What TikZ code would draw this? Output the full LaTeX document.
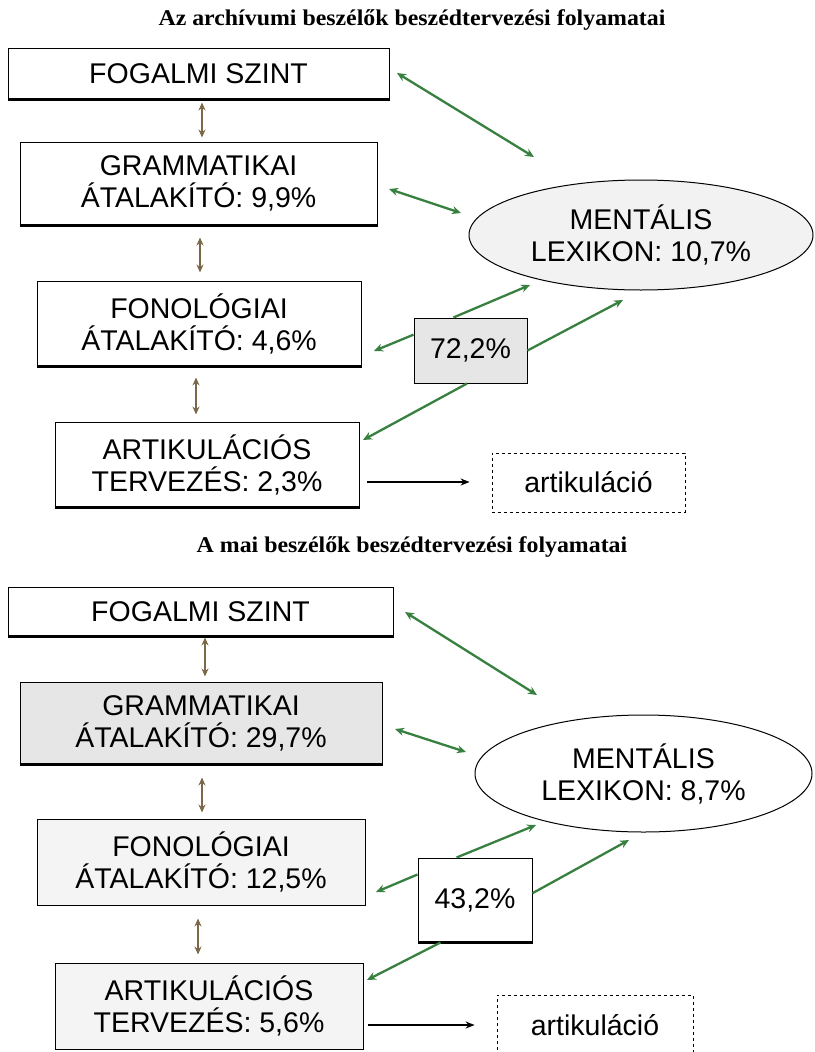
\documentclass[tikz,border=0pt]{standalone}
\usepackage{fontspec}
\setmainfont{Liberation Sans}
\newfontfamily\ttlfont[FakeStretch=1.06]{Liberation Serif}
\usetikzlibrary{arrows.meta,shapes.geometric,calc}
\definecolor{grn}{RGB}{56,128,64}
\definecolor{brn}{RGB}{122,104,72}
\definecolor{lgA}{RGB}{230,230,230}
\definecolor{lgB}{RGB}{242,242,242}
\definecolor{lgC}{RGB}{244,244,244}
\newcommand\bxf{\fontsize{28.5}{32}\selectfont}
\newcommand\ttf{\ttlfont\bfseries\fontsize{22.5}{26}\selectfont}
\tikzset{
  box/.style={draw=black, line width=1pt, inner sep=0pt, align=center, font=\bxf},
  outbox/.style={box, dashed, line width=0.8pt},
  lex/.style={ellipse, draw=black, line width=1pt, inner sep=0pt, align=center, font=\bxf},
  ttl/.style={anchor=base, font=\ttf},
  garrow/.style={draw=grn, line width=2.3pt, -{Stealth[length=9pt,width=8pt]}},
  gdarrow/.style={draw=grn, line width=2.3pt, {Stealth[length=9pt,width=8pt]}-{Stealth[length=9pt,width=8pt]}},
  barrow/.style={draw=brn, line width=2pt, {Stealth[length=8pt,width=7pt]}-{Stealth[length=8pt,width=7pt]}},
  karrow/.style={draw=black, line width=1.5pt, -{Stealth[length=9pt,width=7pt]}},
  thickb/.style={line width=2.4pt}
}
\begin{document}
\begin{tikzpicture}[x=1pt,y=-1pt]
\useasboundingbox (0,0) rectangle (814,1052);
% ---------------- top diagram ----------------
\node[ttl] (t1) at (412,25) {Az archívumi beszélők beszédtervezési folyamatai};
\node[box, minimum width=381, minimum height=51] (fog1) at (198.5,73.5) {FOGALMI SZINT};
\node[box, minimum width=357, minimum height=83] (gram1) at (198.5,183.5) {GRAMMATIKAI\\ÁTALAKÍTÓ: 9,9\%};
\node[box, minimum width=324, minimum height=85] (fono1) at (199,323.5) {FONOLÓGIAI\\ÁTALAKÍTÓ: 4,6\%};
\node[box, minimum width=304, minimum height=85] (art1) at (207,464.5) {ARTIKULÁCIÓS\\TERVEZÉS: 2,3\%};
\node[outbox, minimum width=193, minimum height=59] (out1) at (588.5,482.5) {artikuláció};
\node[box, fill=lgA, minimum width=113, minimum height=65] (pct1) at (470.5,350.5) {72,2\%};
\node[lex, fill=lgB, minimum width=344, minimum height=110] (lex1) at (641,235) {MENTÁLIS\\LEXIKON: 10,7\%};
\draw[thickb] (fog1.south west) -- (fog1.south east);
\draw[thickb] (gram1.south west) -- (gram1.south east);
\draw[thickb] (fono1.south west) -- (fono1.south east);
\draw[thickb] (art1.south west) -- (art1.south east);
\draw[line width=1.8pt] (pct1.south west) -- (pct1.south east);
% brown vertical arrows
\draw[barrow, shorten <=3pt, shorten >=4pt] ([xshift=3.5pt]fog1.south) -- ([xshift=3.5pt]fog1.south |- gram1.north);
\draw[barrow, shorten <=12pt, shorten >=8pt] ([xshift=1.5pt]gram1.south) -- ([xshift=1.5pt]gram1.south |- fono1.north);
\draw[barrow, shorten <=11pt, shorten >=7pt] ([xshift=-3pt]fono1.south) -- ([xshift=-3pt]fono1.south |- art1.north);
% green arrows
\coordinate (a1) at (397,73);
\coordinate (b1) at (534,157);
\draw[gdarrow] (a1) -- (b1);
\coordinate (a2) at (389,189);
\coordinate (b2) at (461,213);
\draw[gdarrow] (a2) -- (b2);
\coordinate (c1) at (530,285);
\coordinate (c2) at (374,351);
\coordinate (c3) at (623,300);
\coordinate (c4) at (363,440);
\draw[garrow] ($(pct1.north west)!0.35!(pct1.north east)$) -- (c1);
\draw[garrow] ($(pct1.north west)!0.26!(pct1.south west)$) -- (c2);
\draw[garrow] (pct1.east) -- (c3);
\draw[garrow] ($(pct1.south west)!0.47!(pct1.south east)$) -- (c4);
% black arrow
\coordinate (k1) at ([yshift=-17.5pt]art1.east);
\draw[karrow, shorten <=7pt, shorten >=22pt] (k1) -- (k1 -| out1.west);
% ---------------- bottom diagram ----------------
\node[ttl] (t2) at (412,552) {A mai beszélők beszédtervezési folyamatai};
\node[box, minimum width=385, minimum height=49] (fog2) at (200.5,611.5) {FOGALMI SZINT};
\node[box, fill=lgA, minimum width=362, minimum height=82] (gram2) at (201,723) {GRAMMATIKAI\\ÁTALAKÍTÓ: 29,7\%};
\node[box, fill=lgC, minimum width=328, minimum height=86] (fono2) at (201,862) {FONOLÓGIAI\\ÁTALAKÍTÓ: 12,5\%};
\node[box, fill=lgC, minimum width=308, minimum height=86] (art2) at (209,1006) {ARTIKULÁCIÓS\\TERVEZÉS: 5,6\%};
\node[outbox, minimum width=196, minimum height=60] (out2) at (595,1025) {artikuláció};
\node[box, fill=white, minimum width=114, minimum height=84] (pct2) at (475,900) {43,2\%};
\node[lex, fill=white, minimum width=337, minimum height=117] (lex2) at (643.5,773.5) {MENTÁLIS\\LEXIKON: 8,7\%};
\draw[thickb] (fog2.south west) -- (fog2.south east);
\draw[thickb] (gram2.south west) -- (gram2.south east);
\draw[line width=3.5pt] (pct2.south west) -- (pct2.south east);
% brown vertical arrows
\draw[barrow, shorten <=1pt, shorten >=5pt] ([xshift=4.5pt]fog2.south) -- ([xshift=4.5pt]fog2.south |- gram2.north);
\draw[barrow, shorten <=13pt, shorten >=6pt] ([xshift=1pt]gram2.south) -- ([xshift=1pt]gram2.south |- fono2.north);
\draw[barrow, shorten <=13pt, shorten >=8pt] ([xshift=-3pt]fono2.south) -- ([xshift=-3pt]fono2.south |- art2.north);
% green arrows
\coordinate (a3) at (405,612);
\coordinate (b3) at (537,695);
\draw[gdarrow] (a3) -- (b3);
\coordinate (a4) at (395,729);
\coordinate (b4) at (466,752);
\draw[gdarrow] (a4) -- (b4);
\coordinate (d1) at (536,825);
\coordinate (d2) at (376,892);
\coordinate (d3) at (629,840);
\coordinate (d4) at (367,980);
\draw[garrow] ($(pct2.north west)!0.34!(pct2.north east)$) -- (d1);
\draw[garrow] ($(pct2.north west)!0.2!(pct2.south west)$) -- (d2);
\draw[garrow] ($(pct2.north east)!0.42!(pct2.south east)$) -- (d3);
\draw[garrow] ($(pct2.south west)!0.2!(pct2.south east)$) -- (d4);
% black arrow
\coordinate (k2) at ([yshift=-19pt]art2.east);
\draw[karrow, shorten <=4pt, shorten >=22pt] (k2) -- (k2 -| out2.west);
\end{tikzpicture}
\end{document}
